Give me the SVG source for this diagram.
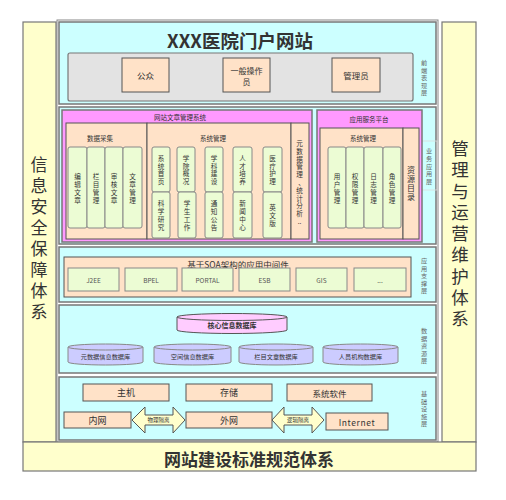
<svg xmlns="http://www.w3.org/2000/svg" width="506" height="500" viewBox="0 0 506 500">
<style>
text{font-family:"Noto Sans CJK SC","Liberation Sans",sans-serif;fill:#333;}
.c{text-anchor:middle;dominant-baseline:central;}
.layer{fill:#ccffff;stroke:#777;stroke-width:1.5;}
.pillar{fill:#ffffcc;stroke:#777;stroke-width:1.2;}
.peach{fill:#ffe2c8;stroke:#555;stroke-width:1;}
.green{fill:#ecfcd4;stroke:#888;stroke-width:1;}
.mag{fill:#ff99ff;stroke:#777;stroke-width:1.5;}
.side{font-size:6.2px;fill:#666;}
.gv{font-size:6.6px;}
.hd{font-size:6.5px;}
.mw{font-size:6.5px;fill:#555;}
.cylL{fill:#ccccff;stroke:#888;stroke-width:1;}
.arr{fill:#ffffcc;stroke:#555;stroke-width:1;}
.inf{font-size:9px;}
</style>
<rect x="0" y="0" width="506" height="500" fill="#ffffff"/>
<g id="outer">
<rect x="57" y="20" width="381" height="422" fill="#ffffff" stroke="#888" stroke-width="1"/>
</g>
<g id="left-pillar">
<rect class="pillar" x="23" y="22" width="33" height="420"/>
<text class="c" font-size="17"><tspan x="39" y="162.5">信</tspan><tspan x="39" y="183.5">息</tspan><tspan x="39" y="204.5">安</tspan><tspan x="39" y="225.5">全</tspan><tspan x="39" y="246.5">保</tspan><tspan x="39" y="267.5">障</tspan><tspan x="39" y="288.5">体</tspan><tspan x="39" y="309.5">系</tspan></text>
</g>
<g id="right-pillar">
<rect class="pillar" x="442" y="22" width="34" height="420"/>
<text class="c" font-size="17.5"><tspan x="460" y="147">管</tspan><tspan x="460" y="168.25">理</tspan><tspan x="460" y="189.5">与</tspan><tspan x="460" y="210.75">运</tspan><tspan x="460" y="232">营</tspan><tspan x="460" y="253.25">维</tspan><tspan x="460" y="274.5">护</tspan><tspan x="460" y="295.75">体</tspan><tspan x="460" y="317">系</tspan></text>
</g>
<g id="bottom-band">
<rect class="pillar" x="23" y="442" width="453" height="29"/>
<text class="c" x="249" y="458" font-size="17" font-weight="bold">网站建设标准规范体系</text>
</g>

<g id="layer-front">
<rect class="layer" x="59" y="22" width="377" height="82"/>
<text class="c" x="240" y="40" font-size="18.5" font-weight="bold">XXX医院门户网站</text>
<rect x="68" y="53" width="345" height="48" rx="2" fill="#e3e3e3" stroke="#777" stroke-width="1.2"/>
<text class="c side"><tspan x="424" y="62">前</tspan><tspan x="424" y="69.5">端</tspan><tspan x="424" y="77">表</tspan><tspan x="424" y="84.5">现</tspan><tspan x="424" y="92">层</tspan></text>
</g>
<g id="node-public">
<rect class="peach" x="122" y="58" width="47" height="34" stroke="#666"/>
<text class="c" x="145.5" y="75" font-size="8.5">公众</text>
</g>
<g id="node-operator">
<rect class="peach" x="223" y="58" width="47" height="34" stroke="#666"/>
<text class="c" x="246.5" y="70" font-size="8">一般操作</text>
<text class="c" x="246.5" y="81.5" font-size="8">员</text>
</g>
<g id="node-admin">
<rect class="peach" x="332" y="58" width="48" height="34" stroke="#666"/>
<text class="c" x="356" y="75" font-size="8.5">管理员</text>
</g>

<g id="layer-business">
<rect class="layer" x="59" y="107" width="377" height="137"/>
<rect x="420" y="141" width="17" height="49" fill="none" stroke="#ddd" stroke-width="0.8"/>
<text class="c side"><tspan x="429" y="150">业</tspan><tspan x="429" y="157.75">务</tspan><tspan x="429" y="165.5">应</tspan><tspan x="429" y="173.25">用</tspan><tspan x="429" y="181">层</tspan></text>
</g>
<g id="cms">
<rect class="mag" x="62" y="110" width="250" height="132"/>
<text class="c hd" x="180" y="117">网站文章管理系统</text>
<rect class="peach" x="66" y="123" width="81" height="116"/>
<text class="c hd" x="100" y="138">数据采集</text>
<rect class="peach" x="147" y="123" width="144" height="116"/>
<text class="c hd" x="213" y="138">系统管理</text>
<rect class="peach" x="291" y="123" width="18" height="116"/>
<text class="c gv"><tspan x="299.5" y="143">元</tspan><tspan x="299.5" y="150.8">数</tspan><tspan x="299.5" y="158.6">据</tspan><tspan x="299.5" y="166.4">管</tspan><tspan x="299.5" y="174.2">理</tspan><tspan x="301.5" y="182">、</tspan><tspan x="299.5" y="189.8">统</tspan><tspan x="299.5" y="197.6">计</tspan><tspan x="299.5" y="205.4">分</tspan><tspan x="299.5" y="213.2">析</tspan><tspan x="299.5" y="220.5">..</tspan></text>
</g>
<g id="cms-collect">
<rect class="green" x="68" y="147" width="19" height="81" rx="2"/>
<text class="c gv"><tspan x="77.5" y="176.45">编</tspan><tspan x="77.5" y="184.15">辑</tspan><tspan x="77.5" y="191.85">文</tspan><tspan x="77.5" y="199.55">章</tspan></text>
<rect class="green" x="87" y="147" width="18" height="81" rx="2"/>
<text class="c gv"><tspan x="96" y="176.45">栏</tspan><tspan x="96" y="184.15">目</tspan><tspan x="96" y="191.85">管</tspan><tspan x="96" y="199.55">理</tspan></text>
<rect class="green" x="105" y="147" width="18" height="81" rx="2"/>
<text class="c gv"><tspan x="114" y="176.45">审</tspan><tspan x="114" y="184.15">核</tspan><tspan x="114" y="191.85">文</tspan><tspan x="114" y="199.55">章</tspan></text>
<rect class="green" x="123" y="147" width="19" height="81" rx="2"/>
<text class="c gv"><tspan x="132.5" y="176.45">文</tspan><tspan x="132.5" y="184.15">章</tspan><tspan x="132.5" y="191.85">管</tspan><tspan x="132.5" y="199.55">理</tspan></text>
</g>
<g id="cms-sys">
<rect class="green" x="152" y="147" width="18" height="45" rx="2"/>
<text class="c gv"><tspan x="161" y="157.95">系</tspan><tspan x="161" y="165.65">统</tspan><tspan x="161" y="173.35">首</tspan><tspan x="161" y="181.05">页</tspan></text>
<rect class="green" x="152" y="192" width="18" height="46" rx="2"/>
<text class="c gv"><tspan x="161" y="203.45">科</tspan><tspan x="161" y="211.15">学</tspan><tspan x="161" y="218.85">研</tspan><tspan x="161" y="226.55">究</tspan></text>
<rect class="green" x="177" y="147" width="18" height="45" rx="2"/>
<text class="c gv"><tspan x="186" y="157.95">学</tspan><tspan x="186" y="165.65">院</tspan><tspan x="186" y="173.35">概</tspan><tspan x="186" y="181.05">况</tspan></text>
<rect class="green" x="178" y="192" width="18" height="46" rx="2"/>
<text class="c gv"><tspan x="187" y="203.45">学</tspan><tspan x="187" y="211.15">生</tspan><tspan x="187" y="218.85">工</tspan><tspan x="187" y="226.55">作</tspan></text>
<rect class="green" x="205" y="147" width="18" height="45" rx="2"/>
<text class="c gv"><tspan x="214" y="157.95">学</tspan><tspan x="214" y="165.65">科</tspan><tspan x="214" y="173.35">建</tspan><tspan x="214" y="181.05">设</tspan></text>
<rect class="green" x="205" y="192" width="18" height="46" rx="2"/>
<text class="c gv"><tspan x="214" y="203.45">通</tspan><tspan x="214" y="211.15">知</tspan><tspan x="214" y="218.85">公</tspan><tspan x="214" y="226.55">告</tspan></text>
<rect class="green" x="233" y="147" width="19" height="45" rx="2"/>
<text class="c gv"><tspan x="242.5" y="157.95">人</tspan><tspan x="242.5" y="165.65">才</tspan><tspan x="242.5" y="173.35">培</tspan><tspan x="242.5" y="181.05">养</tspan></text>
<rect class="green" x="233" y="192" width="19" height="46" rx="2"/>
<text class="c gv"><tspan x="242.5" y="203.45">新</tspan><tspan x="242.5" y="211.15">闻</tspan><tspan x="242.5" y="218.85">中</tspan><tspan x="242.5" y="226.55">心</tspan></text>
<rect class="green" x="263" y="147" width="19" height="45" rx="2"/>
<text class="c gv"><tspan x="272.5" y="157.95">医</tspan><tspan x="272.5" y="165.65">疗</tspan><tspan x="272.5" y="173.35">护</tspan><tspan x="272.5" y="181.05">理</tspan></text>
<rect class="green" x="263" y="192" width="19" height="46" rx="2"/>
<text class="c gv"><tspan x="272.5" y="207.3">英</tspan><tspan x="272.5" y="215">文</tspan><tspan x="272.5" y="222.7">版</tspan></text>
</g>
<g id="app-platform">
<rect class="mag" x="317" y="110" width="105" height="132"/>
<text class="c hd" x="369" y="119">应用服务平台</text>
<rect class="peach" x="320" y="128" width="83" height="111"/>
<text class="c hd" x="363" y="138">系统管理</text>
<rect class="peach" x="403" y="128" width="16" height="111"/>
<text class="c" font-size="8"><tspan x="411" y="168.5">资</tspan><tspan x="411" y="177.8">源</tspan><tspan x="411" y="187.1">目</tspan><tspan x="411" y="196.4">录</tspan></text>
<rect class="green" x="328" y="147" width="18" height="81" rx="2"/>
<text class="c gv"><tspan x="337" y="176.45">用</tspan><tspan x="337" y="184.15">户</tspan><tspan x="337" y="191.85">管</tspan><tspan x="337" y="199.55">理</tspan></text>
<rect class="green" x="346" y="147" width="18" height="81" rx="2"/>
<text class="c gv"><tspan x="355" y="176.45">权</tspan><tspan x="355" y="184.15">限</tspan><tspan x="355" y="191.85">管</tspan><tspan x="355" y="199.55">理</tspan></text>
<rect class="green" x="364" y="147" width="19" height="81" rx="2"/>
<text class="c gv"><tspan x="373.5" y="176.45">日</tspan><tspan x="373.5" y="184.15">志</tspan><tspan x="373.5" y="191.85">管</tspan><tspan x="373.5" y="199.55">理</tspan></text>
<rect class="green" x="383" y="147" width="18" height="81" rx="2"/>
<text class="c gv"><tspan x="392" y="176.45">角</tspan><tspan x="392" y="184.15">色</tspan><tspan x="392" y="191.85">管</tspan><tspan x="392" y="199.55">理</tspan></text>
</g>

<g id="layer-support">
<rect class="layer" x="59" y="247" width="377" height="55"/>
<text class="c side"><tspan x="424" y="260">应</tspan><tspan x="424" y="267.5">用</tspan><tspan x="424" y="275">支</tspan><tspan x="424" y="282.5">撑</tspan><tspan x="424" y="290">层</tspan></text>
<rect class="peach" x="64" y="257" width="347" height="40"/>
<text class="c" x="238" y="264" font-size="8.5">基于SOA架构的应用中间件</text>
</g>
<g id="middleware">
<rect class="green" x="68" y="268" width="51" height="23" stroke="#666"/>
<text class="c mw" x="93.5" y="280">J2EE</text>
<rect class="green" x="125" y="268" width="52" height="23" stroke="#666"/>
<text class="c mw" x="151" y="280">BPEL</text>
<rect class="green" x="182" y="268" width="51" height="23" stroke="#666"/>
<text class="c mw" x="207.5" y="280">PORTAL</text>
<rect class="green" x="239" y="268" width="51" height="23" stroke="#666"/>
<text class="c mw" x="264.5" y="280">ESB</text>
<rect class="green" x="296" y="268" width="51" height="23" stroke="#666"/>
<text class="c mw" x="321.5" y="280">GIS</text>
<rect class="green" x="354" y="268" width="52" height="23" stroke="#666"/>
<text class="c mw" x="380" y="280">...</text>
</g>

<g id="layer-data">
<rect class="layer" x="59" y="305" width="377" height="68"/>
<text class="c side"><tspan x="424" y="330">数</tspan><tspan x="424" y="337.5">据</tspan><tspan x="424" y="345">资</tspan><tspan x="424" y="352.5">源</tspan><tspan x="424" y="360">层</tspan></text>
</g>
<g id="core-db">
<path d="M177,317 L177,330 A55,3.5 0 0 0 287,330 L287,317" fill="#ffccff" stroke="#555" stroke-width="1"/>
<ellipse cx="232" cy="317" rx="55" ry="3.5" fill="#ffccff" stroke="#555" stroke-width="1"/>
<text class="c" x="232" y="325" font-size="7" font-weight="bold">核心信息数据库</text>
</g>
<g id="db-meta">
<path d="M68,347 L68,362 A37.5,3 0 0 0 143,362 L143,347" class="cylL"/>
<ellipse cx="105.5" cy="347" rx="37.5" ry="3" class="cylL"/>
<text class="c" x="105.5" y="356" font-size="6.2">元数据信息数据库</text>
</g>
<g id="db-space">
<path d="M154,347 L154,362 A38.5,3 0 0 0 231,362 L231,347" class="cylL"/>
<ellipse cx="192.5" cy="347" rx="38.5" ry="3" class="cylL"/>
<text class="c" x="192.5" y="356" font-size="6.2">空间信息数据库</text>
</g>
<g id="db-article">
<path d="M239,347 L239,362 A37,3 0 0 0 313,362 L313,347" class="cylL"/>
<ellipse cx="276" cy="347" rx="37" ry="3" class="cylL"/>
<text class="c" x="276" y="356" font-size="6.2">栏目文章数据库</text>
</g>
<g id="db-people">
<path d="M323,347 L323,362 A37.5,3 0 0 0 398,362 L398,347" class="cylL"/>
<ellipse cx="360.5" cy="347" rx="37.5" ry="3" class="cylL"/>
<text class="c" x="360.5" y="356" font-size="6.2">人员机构数据库</text>
</g>

<g id="layer-infra">
<rect class="layer" x="59" y="377" width="377" height="63"/>
<text class="c side"><tspan x="424" y="393">基</tspan><tspan x="424" y="400.5">础</tspan><tspan x="424" y="408">设</tspan><tspan x="424" y="415.5">施</tspan><tspan x="424" y="423">层</tspan></text>
</g>
<g id="node-host">
<rect class="peach" x="83" y="384" width="86" height="17" stroke="#666"/>
<text class="c inf" x="126" y="392.5">主机</text>
</g>
<g id="node-storage">
<rect class="peach" x="186" y="384" width="86" height="17" stroke="#666"/>
<text class="c inf" x="229" y="392.5">存储</text>
</g>
<g id="node-software">
<rect class="peach" x="287" y="384" width="85" height="17" stroke="#666"/>
<text class="c" x="329.5" y="392.5" font-size="8.5">系统软件</text>
</g>
<g id="node-intranet">
<rect class="peach" x="64" y="412" width="67" height="16" stroke="#666"/>
<text class="c inf" x="97.5" y="420">内网</text>
</g>
<g id="node-extranet">
<rect class="peach" x="186" y="412" width="86" height="16" stroke="#666"/>
<text class="c inf" x="229" y="420">外网</text>
</g>
<g id="node-internet">
<rect class="peach" x="326" y="413" width="62" height="17" stroke="#666"/>
<text class="c" x="357" y="421.5" font-size="8.5" letter-spacing="0.6" font-family="Liberation Sans, sans-serif">Internet</text>
</g>
<g id="connectors">
<polygon class="arr" points="132,420 145,407 145,415 173,415 173,407 185,420 173,433 173,425 145,425 145,433"/>
<text class="c" x="158.5" y="420" font-size="5.5">物理隔离</text>
<polygon class="arr" points="272,420 284,407 284,415 312,415 312,407 324,420 312,433 312,425 284,425 284,433"/>
<text class="c" x="298" y="420" font-size="5.5">逻辑隔离</text>
</g>
</svg>
